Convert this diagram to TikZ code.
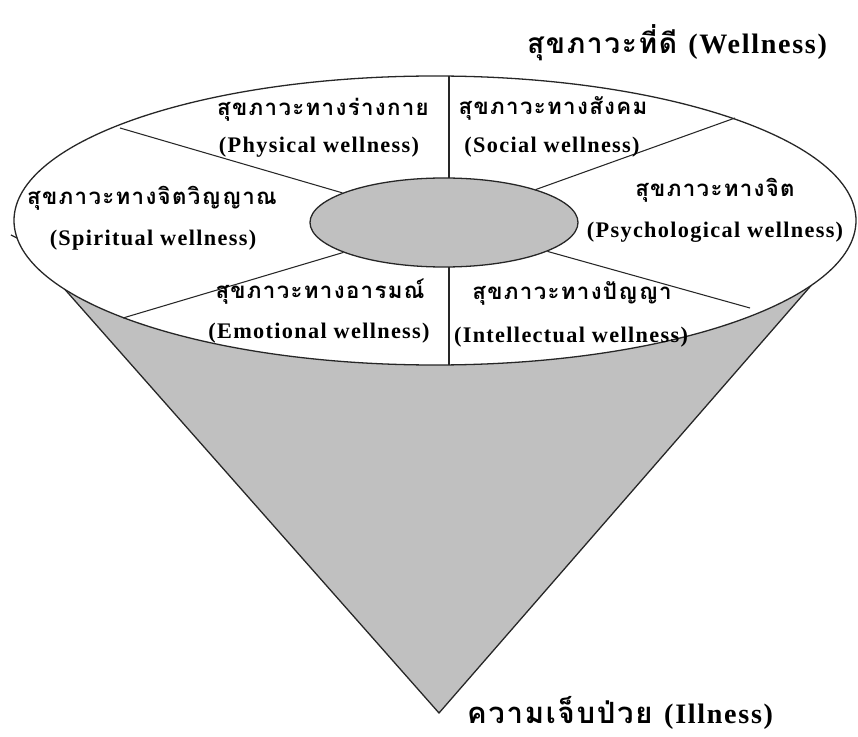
\documentclass[tikz,border=0pt]{standalone}
\usepackage{fontspec}
\setmainfont{Liberation Serif}
\newfontfamily\thaifont[Script=Thai,LetterSpace=6]{Loma}
\newfontfamily\latfont[LetterSpace=6]{Liberation Serif}
\definecolor{conegray}{RGB}{192,192,192}
\tikzset{
  rim/.style={line width=1.1pt,draw=black!85},
  spoke/.style={line width=0.9pt,draw=black!85},
  thai/.style={font=\fontsize{19}{21}\selectfont\thaifont\bfseries,inner sep=0pt},
  eng/.style={font=\fontsize{19}{21}\selectfont\latfont\bfseries,inner sep=0pt},
  hub/.style={ellipse,fill=conegray,draw=black!85,line width=1.1pt,inner sep=0pt,
    minimum width=8.04cm,minimum height=2.67cm}
}
\usetikzlibrary{shapes.geometric}

\begin{document}
\begin{tikzpicture}[x=0.03cm,y=-0.03cm]
  \useasboundingbox (0,0) rectangle (858,737);
  \coordinate (apex) at (439,713);
  \coordinate (coneL) at (61,285);
  \coordinate (coneR) at (815,281);
  \fill[conegray] (coneL) -- (apex) -- (coneR) -- cycle;
  \draw[rim] (coneL) -- (apex) -- (coneR);
  % the rim of the funnel
  \filldraw[fill=white,rim] (435,220.5) ellipse [x radius=421,y radius=144.5];
  \draw[rim] (11,235) -- (17,238);
  \coordinate (rimTop) at (449,76);
  \coordinate (rimBot) at (449,365);
  \coordinate (rimNW) at (120,128);
  \coordinate (rimSW) at (123,318);
  \coordinate (rimNE) at (735,118);
  \coordinate (spokeSE) at (750,308);
  \draw[spoke] (rimTop) -- (rimBot);
  \node[hub] (hub) at (444,222.5) {};
  \draw[spoke] (rimNW) -- (hub);
  \draw[spoke] (rimSW) -- (hub);
  \draw[spoke] (rimNE) -- (hub);
  \draw[spoke] (hub) -- (spokeSE);
  % labels
  \node[thai] (physTh) at (323,110) {สุขภาวะทางร่างกาย};
  \node[eng]  (physEn) at (319,147) {(Physical wellness)};
  \node[thai] (socTh)  at (553,108) {สุขภาวะทางสังคม};
  \node[eng]  (socEn)  at (552,147) {(Social wellness)};
  \node[thai] (psyTh)  at (715,190) {สุขภาวะทางจิต};
  \node[eng]  (psyEn)  at (715,232) {(Psychological wellness)};
  \node[thai] (spiTh)  at (152,198) {สุขภาวะทางจิตวิญญาณ};
  \node[eng]  (spiEn)  at (153,240) {(Spiritual wellness)};
  \node[thai] (emoTh)  at (320,292) {สุขภาวะทางอารมณ์};
  \node[eng]  (emoEn)  at (319,333) {(Emotional wellness)};
  \node[thai] (intTh)  at (572,293) {สุขภาวะทางปัญญา};
  \node[eng]  (intEn)  at (571,337) {(Intellectual wellness)};
  % top and bottom of the scale
  \node[inner sep=0pt] (well) at (677,43)
    {\fontsize{24}{28}\selectfont\thaifont\bfseries สุขภาวะที่ดี {\latfont(Wellness)}};
  \node[inner sep=0pt] (ill) at (620,713)
    {\fontsize{25}{29}\selectfont\thaifont\bfseries ความเจ็บป่วย {\fontsize{24}{28}\selectfont\latfont(Illness)}};
\end{tikzpicture}
\end{document}
